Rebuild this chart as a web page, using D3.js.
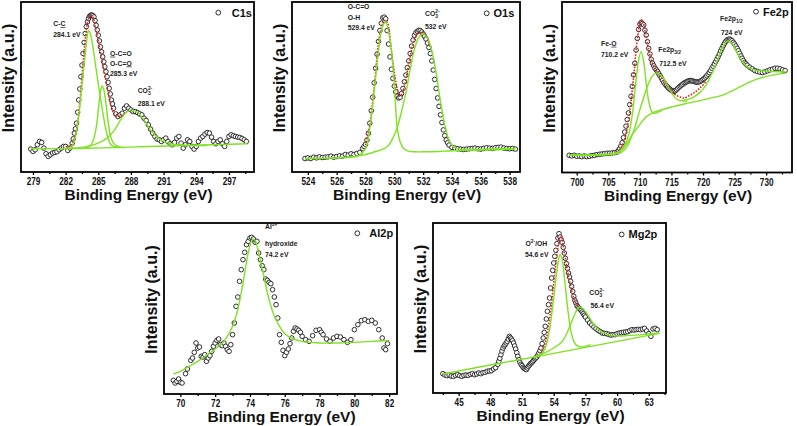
<!DOCTYPE html>
<html><head><meta charset="utf-8">
<script src="https://cdn.jsdelivr.net/npm/d3@7/dist/d3.min.js"></script>
<style>
html,body{margin:0;padding:0;background:#fff;}
svg{display:block;font-family:"Liberation Sans",Arial,Helvetica,sans-serif;}
</style></head><body>
<svg id="chart" width="797" height="426"></svg>
<script>
// ---------------- C1s ----------------
const c1sTicks = [279, 282, 285, 288, 291, 294, 297];
const c1sMinor = [280.5, 283.5, 286.5, 289.5, 292.5, 295.5, 298.5];
const c1sPoints = [
[278.8,69],[279.0,62],[279.2,67],[279.4,82],[279.6,92],[279.8,89],[280.0,72],[280.2,55],[280.4,47],[280.6,52],[280.8,57],[281.0,59],[281.2,61],[281.4,67],[281.6,72],[281.8,77],[282.0,77],[282.2,65],[282.4,72],[282.6,87],[282.7,100],[282.8,117],[282.9,130],[283.0,147],[283.1,180],[283.2,217],[283.3,250],[283.4,287],[283.5,322],[283.6,357],[283.7,390],[283.8,417],[283.9,438],[284.0,452],[284.1,462],[284.2,469],[284.3,472],[284.4,473],[284.5,471],[284.6,467],[284.7,456],[284.8,442],[284.9,428],[285.0,412],[285.1,395],[285.2,377],[285.3,362],[285.4,347],[285.5,332],[285.6,317],[285.7,302],[285.8,287],[285.9,270],[286.0,252],[286.1,235],[286.2,217],[286.3,205],[286.4,192],[286.6,175],[286.8,167],[287.0,172],[287.2,177],[287.4,192],[287.6,199],[287.8,192],[288.0,187],[288.2,182],[288.4,182],[288.6,179],[288.8,175],[289.0,172],[289.2,162],[289.4,155],[289.6,142],[289.8,129],[290.0,117],[290.2,107],[290.4,99],[290.6,97],[290.8,92],[291.0,97],[291.2,102],[291.4,92],[291.6,85],[291.8,82],[292.0,89],[292.2,102],[292.4,107],[292.6,87],[292.8,72],[293.0,82],[293.2,97],[293.4,92],[293.6,77],[293.8,69],[294.0,77],[294.2,92],[294.4,102],[294.6,107],[294.8,114],[295.0,119],[295.2,117],[295.4,105],[295.6,92],[295.8,85],[296.0,92],[296.2,97],[296.4,85],[296.6,77],[296.8,92],[297.0,107],[297.2,112],[297.4,109],[297.6,107],[297.8,105],[298.0,104],[298.2,101],[298.4,97],[298.6,92]
];
const c1sBackground = [[278.8,70],[283,71],[288,75],[293,80],[298.7,85]];
const c1sPeakCC = [[282.0,71],[282.4,74],[282.7,85],[282.9,107],[283.1,142],[283.3,197],[283.5,262],[283.7,327],[283.9,387],[284.0,412],[284.1,427],[284.3,412],[284.5,377],[284.7,332],[284.9,287],[285.1,242],[285.3,202],[285.5,162],[285.7,127],[285.9,102],[286.1,85],[286.4,77],[287.0,74]];
const c1sPeakOCO = [[283.8,72],[284.2,77],[284.5,92],[284.8,132],[285.0,187],[285.2,242],[285.35,259],[285.5,249],[285.7,207],[285.9,152],[286.1,112],[286.4,87],[286.8,77],[287.4,73]];
const c1sPeakCO3 = [[282.5,71],[284.0,77],[285.0,87],[285.8,102],[286.5,127],[287.0,155],[287.5,177],[288.1,187],[288.6,179],[289.2,157],[289.8,127],[290.4,105],[291.0,92],[292.0,83],[293.5,80],[295.0,80]];
const c1sEnvelope = [[282.0,77],[282.4,77],[282.7,92],[283.0,127],[283.3,207],[283.6,327],[283.9,427],[284.1,462],[284.3,472],[284.5,467],[284.7,442],[285.0,397],[285.3,342],[285.6,292],[285.9,242],[286.2,197],[286.5,172],[286.8,167],[287.2,172],[287.6,182]];
const c1sLabels = ["C-_C_", "284.1 eV", "_O_-C=O", "O-C=_O_", "285.3 eV", "CO{3}^{2-}", "288.1 eV"];

// ---------------- O1s ----------------
const o1sTicks = [524, 526, 528, 530, 532, 534, 536, 538];
const o1sMinor = [525, 527, 529, 531, 533, 535, 537];
const o1sPoints = [
[523.8,40],[524.0,42],[524.2,40],[524.4,44],[524.6,42],[524.8,45],[525.0,43],[525.2,44],[525.4,45],[525.6,47],[525.8,44],[526.0,46],[526.2,48],[526.4,47],[526.6,52],[526.8,50],[527.0,54],[527.2,52],[527.4,55],[527.6,58],[527.8,70],[527.9,76],[528.0,82],[528.1,95],[528.2,115],[528.3,145],[528.4,182],[528.5,222],[528.6,265],[528.7,308],[528.8,350],[528.9,388],[529.0,420],[529.1,442],[529.2,458],[529.3,460],[529.4,455],[529.5,420],[529.6,380],[529.7,342],[529.8,305],[529.9,278],[530.0,255],[530.1,238],[530.2,225],[530.3,220],[530.4,222],[530.5,233],[530.6,248],[530.7,268],[530.8,288],[530.9,310],[531.0,330],[531.1,352],[531.2,374],[531.3,392],[531.4,406],[531.5,414],[531.6,418],[531.7,421],[531.8,420],[531.9,416],[532.0,410],[532.1,403],[532.2,395],[532.3,383],[532.4,370],[532.5,352],[532.6,330],[532.7,303],[532.8,275],[532.9,248],[533.0,220],[533.1,195],[533.2,170],[533.3,147],[533.4,125],[533.5,108],[533.6,95],[533.7,87],[533.8,80],[534.0,73],[534.2,71],[534.4,69],[534.6,68],[534.8,67],[535.0,68],[535.2,69],[535.4,70],[535.6,71],[535.8,69],[536.0,68],[536.2,70],[536.4,72],[536.6,71],[536.8,70],[537.0,72],[537.2,73],[537.4,74],[537.6,71],[537.8,70],[538.0,69],[538.2,70],[538.4,68]
];
const o1sPeakOCO = [[523.8,40],[526,42],[527.5,48],[528.0,70],[528.3,130],[528.6,240],[528.9,360],[529.1,420],[529.3,442],[529.4,445],[529.6,418],[529.8,360],[530.0,260],[530.2,132],[530.4,90],[530.6,72],[530.9,63],[531.4,60],[532,60],[533,61],[534,63],[536,65],[538.4,68]];
const o1sPeakCO3 = [[523.8,40],[526,42],[527.5,48],[528.5,58],[529.5,75],[530.0,110],[530.2,132],[530.5,180],[530.8,235],[531.1,305],[531.4,365],[531.7,400],[532.0,410],[532.3,398],[532.6,360],[532.9,295],[533.2,210],[533.5,140],[533.8,95],[534.1,75],[534.6,68],[535.5,67],[537,69],[538.4,70]];
const o1sEnvelope = [[528.0,80],[528.3,140],[528.6,250],[529.0,410],[529.3,450],[529.5,445],[529.8,360],[530.0,295],[530.2,248],[530.4,225],[530.6,240],[530.8,275],[531.0,320],[531.3,380],[531.6,410],[531.9,415],[532.2,405],[532.5,370]];
const o1sLabels = ["O-C=O", "O-H", "529.4 eV", "CO{3}^{2-}", "532 eV"];

// ---------------- Fe2p ----------------
const fe2pTicks = [700, 705, 710, 715, 720, 725, 730];
const fe2pMinor = [702.5, 707.5, 712.5, 717.5, 722.5, 727.5, 732.5];
const fe2pPoints = [
[698.8,52],[699.2,50],[699.6,52],[700.0,49],[700.4,50],[700.8,48],[701.2,50],[701.6,48],[702.0,49],[702.4,51],[702.8,52],[703.2,54],[703.6,55],[704.0,56],[704.4,57],[704.8,58],[705.2,58],[705.6,59],[706.0,60],[706.4,62],[706.6,66],[706.8,72],[707.0,80],[707.2,90],[707.4,105],[707.6,122],[707.8,140],[708.0,160],[708.2,180],[708.4,205],[708.6,230],[708.8,260],[709.0,295],[709.2,330],[709.4,370],[709.6,405],[709.8,432],[710.0,448],[710.2,453],[710.4,450],[710.6,446],[710.8,430],[711.0,415],[711.2,395],[711.4,375],[711.6,358],[711.8,342],[712.0,330],[712.2,322],[712.4,315],[712.6,310],[712.8,305],[713.0,298],[713.2,292],[713.4,285],[713.6,278],[713.8,272],[714.0,267],[714.2,262],[714.4,258],[714.6,254],[714.8,251],[715.0,248],[715.2,246],[715.4,245],[715.6,247],[715.8,250],[716.0,254],[716.2,258],[716.4,261],[716.6,264],[716.8,267],[717.0,270],[717.2,272],[717.4,274],[717.6,276],[717.8,277],[718.0,278],[718.2,277],[718.4,276],[718.6,275],[718.8,274],[719.0,273],[719.2,273],[719.4,274],[719.6,276],[719.8,278],[720.0,281],[720.2,284],[720.4,288],[720.6,292],[720.8,297],[721.0,302],[721.2,308],[721.4,315],[721.6,321],[721.8,328],[722.0,335],[722.2,342],[722.4,350],[722.6,358],[722.8,367],[723.0,375],[723.2,383],[723.4,390],[723.6,396],[723.8,400],[724.0,402],[724.2,403],[724.4,401],[724.6,398],[724.8,393],[725.0,388],[725.2,382],[725.4,375],[725.6,368],[725.8,360],[726.0,352],[726.2,345],[726.4,338],[726.6,332],[726.8,328],[727.0,324],[727.4,318],[727.8,313],[728.2,308],[728.6,305],[729.0,303],[729.4,302],[729.8,304],[730.2,307],[730.6,310],[731.0,312],[731.4,315],[731.8,315],[732.2,313],[732.6,310],[733.0,308]
];
const fe2pBackground = [[698.8,52],[704,54],[706,56],[707,65],[708,90],[709,120],[710,145],[711,168],[712,180],[713,187],[715,198],[717,207],[719,215],[721,224],[723,233],[725,250],[727,270],[729,285],[731,294],[733.1,300]];
const fe2pPeakFeO = [[698.8,52],[705,55],[706.5,60],[707.5,80],[708.3,120],[708.9,190],[709.4,280],[709.8,340],[710.2,365],[710.6,335],[711.0,270],[711.4,215],[711.8,187],[712.2,178],[712.6,180],[713.5,188]];
const fe2pPeak32 = [[698.8,52],[705,54],[707,60],[707.5,68],[708,80],[708.5,100],[709,125],[709.5,155],[710,190],[710.5,220],[711,250],[711.5,275],[712,292],[712.5,300],[713.0,298],[713.6,288],[714.2,270],[714.8,248],[715.4,230],[716.0,220],[716.5,217],[717.5,215]];
const fe2pPeak12 = [[716.5,217],[717.5,220],[718.5,228],[719.5,242],[720.5,265],[721.3,295],[722,325],[722.7,360],[723.3,385],[724,397],[724.6,390],[725.2,370],[725.8,348],[726.5,328],[727.3,316],[728.2,310],[729.5,307],[731,305],[733.1,304]];
const fe2pEnvelope = [[706.5,60],[707,75],[707.5,95],[708,135],[708.5,200],[709,285],[709.4,370],[709.8,430],[710.1,458],[710.4,460],[710.7,440],[711.0,410],[711.4,370],[711.8,340],[712.2,320],[712.6,308],[713.2,292],[714,270],[714.8,250],[715.6,235],[716.4,228],[717,225],[717.6,230],[718.5,240],[719.5,255],[720.5,275]];
const fe2pLabels = ["Fe-_O_", "710.2 eV", "Fe2p{3/2}", "712.5 eV", "Fe2p{1/2}", "724 eV"];

// ---------------- Al2p ----------------
const al2pTicks = [70, 72, 74, 76, 78, 80, 82];
const al2pMinor = [71, 73, 75, 77, 79, 81];
const al2pPoints = [
[69.6,41],[69.7,33],[69.8,38],[69.9,45],[70.0,35],[70.1,33],[70.3,61],[70.4,75],[70.6,101],[70.7,108],[70.8,125],[70.9,153],[71.0,138],[71.1,141],[71.2,113],[71.3,111],[71.4,118],[71.5,98],[71.6,108],[71.7,115],[71.8,128],[71.9,143],[72.0,153],[72.1,161],[72.2,165],[72.3,148],[72.4,145],[72.5,153],[72.6,143],[72.7,133],[72.8,128],[72.9,148],[73.0,178],[73.1,213],[73.2,263],[73.3,291],[73.4,338],[73.5,373],[73.6,403],[73.7,425],[73.8,448],[73.9,458],[74.0,468],[74.1,470],[74.2,465],[74.3,455],[74.4,458],[74.5,423],[74.6,403],[74.7,385],[74.8,373],[74.9,345],[75.0,341],[75.1,335],[75.2,331],[75.3,313],[75.4,291],[75.5,268],[75.6,228],[75.7,178],[75.8,155],[75.9,131],[76.0,115],[76.1,125],[76.2,135],[76.3,151],[76.4,168],[76.5,188],[76.6,198],[76.7,195],[76.8,191],[76.9,185],[77.0,173],[77.2,163],[77.4,158],[77.6,175],[77.8,191],[78.0,193],[78.1,185],[78.2,178],[78.4,165],[78.6,158],[78.8,168],[79.0,173],[79.2,171],[79.4,163],[79.6,155],[79.8,163],[80.0,193],[80.2,208],[80.4,220],[80.6,223],[80.8,218],[81.0,221],[81.2,213],[81.4,193],[81.6,168],[81.7,138],[81.8,133],[81.9,151]
];
const al2pFit = [[69.6,60],[70,68],[70.5,83],[71,98],[71.5,116],[72,135],[72.5,158],[73,203],[73.3,253],[73.6,333],[73.9,423],[74.1,461],[74.2,465],[74.3,461],[74.5,423],[74.8,353],[75.1,283],[75.4,233],[75.7,203],[76,181],[76.5,165],[77,158],[77.5,155],[78,153],[79,153],[80,155],[81,158],[82,160]];
const al2pLabels = ["Al^{3+}", "hydroxide", "74.2 eV"];

// ---------------- Mg2p ----------------
const mg2pTicks = [45, 48, 51, 54, 57, 60, 63];
const mg2pMinor = [43.5, 46.5, 49.5, 52.5, 55.5, 58.5, 61.5, 64.5];
const mg2pPoints = [
[43.5,58],[43.7,54],[43.9,52],[44.1,54],[44.3,51],[44.5,50],[44.7,53],[44.9,55],[45.1,52],[45.3,50],[45.5,53],[45.7,54],[45.9,53],[46.1,56],[46.3,58],[46.5,55],[46.7,57],[46.9,60],[47.1,58],[47.3,61],[47.5,62],[47.7,65],[47.9,66],[48.1,67],[48.3,72],[48.5,76],[48.7,86],[48.8,95],[48.9,104],[49.0,115],[49.1,126],[49.2,135],[49.3,141],[49.4,145],[49.5,150],[49.6,155],[49.7,162],[49.8,170],[49.9,166],[50.0,162],[50.1,157],[50.2,150],[50.3,141],[50.4,132],[50.5,121],[50.6,110],[50.7,100],[50.8,92],[50.9,86],[51.0,82],[51.1,77],[51.2,74],[51.3,72],[51.4,70],[51.5,75],[51.6,80],[51.7,84],[51.8,88],[51.9,91],[52.0,94],[52.1,98],[52.2,102],[52.3,105],[52.4,108],[52.5,114],[52.6,120],[52.7,127],[52.8,135],[52.9,148],[53.0,165],[53.1,182],[53.2,200],[53.3,222],[53.4,245],[53.5,265],[53.6,285],[53.7,315],[53.8,345],[53.9,368],[54.0,390],[54.1,410],[54.2,428],[54.3,448],[54.4,465],[54.5,478],[54.6,468],[54.7,460],[54.8,452],[54.9,437],[55.0,420],[55.1,404],[55.2,388],[55.3,374],[55.4,360],[55.5,348],[55.6,335],[55.7,320],[55.8,305],[55.9,290],[56.0,278],[56.1,270],[56.2,262],[56.3,258],[56.4,254],[56.5,251],[56.6,248],[56.7,243],[56.8,238],[56.9,233],[57.0,228],[57.2,219],[57.4,210],[57.6,204],[57.8,198],[58.0,193],[58.2,188],[58.4,184],[58.6,180],[58.8,179],[59.0,178],[59.2,176],[59.4,174],[59.6,175],[59.8,175],[60.0,178],[60.2,180],[60.4,181],[60.6,182],[60.8,183],[61.0,184],[61.2,187],[61.4,190],[61.6,189],[61.8,190],[62.0,191],[62.2,190],[62.4,192],[62.6,194],[62.8,186],[63.0,178],[63.2,170],[63.4,192],[63.6,194],[63.8,190]
];
const mg2pBackground = [[43.5,57],[46,72],[49,90],[52,107],[55,125],[58,143],[61,161],[64,179]];
const mg2pPeakOH = [[52,107],[52.8,115],[53.2,135],[53.6,190],[53.9,260],[54.2,340],[54.4,390],[54.6,415],[54.8,400],[55.0,350],[55.3,260],[55.6,190],[55.9,155],[56.2,142],[56.6,138],[57.5,145]];
const mg2pPeakCO3 = [[52,107],[53,118],[54,135],[54.8,155],[55.4,190],[55.9,230],[56.2,250],[56.4,258],[56.7,255],[57.1,240],[57.6,215],[58.1,195],[58.7,180],[59.5,172],[61,172],[63,177],[64,180]];
const mg2pEnvelope = [[52.8,120],[53.2,150],[53.6,220],[53.9,300],[54.2,390],[54.5,455],[54.7,470],[54.9,440],[55.2,385],[55.5,335],[55.8,295],[56.1,270],[56.4,260]];
const mg2pLabels = ["O^{2-}/OH", "54.6 eV", "CO{3}^{2-}", "56.4 eV"];

const yTitle = "Intensity (a.u.)";
const xTitle = "Binding Energy (eV)";

// ---------------- layout ----------------
const panels = [
  {name:"C1s", points:c1sPoints, ticks:c1sTicks, minor:c1sMinor,
   green:[c1sBackground,c1sPeakCC,c1sPeakOCO,c1sPeakCO3], red:c1sEnvelope,
   xDomain:[277.9,299.3], yDomain:[0,512], box:[21,254,2,172],
   legend:[218.3,12.7,231.7,16.5],
   labels:c1sLabels, labelPos:[[53.3,26],[53.3,36.5],[110,55.7],[110,65.5],[110,76],[137.7,93],[137.7,106]]},
  {name:"O1s", points:o1sPoints, ticks:o1sTicks, minor:o1sMinor,
   green:[o1sPeakOCO,o1sPeakCO3], red:o1sEnvelope,
   xDomain:[522.9,538.72], yDomain:[0,505], box:[292,520,2,172],
   legend:[486.7,13.3,493.5,16.5],
   labels:o1sLabels, labelPos:[[347.7,8.5],[347.7,19.5],[347.7,30],[425,16],[425,29.3]]},
  {name:"Fe2p", points:fe2pPoints, ticks:fe2pTicks, minor:fe2pMinor,
   green:[fe2pBackground,fe2pPeakFeO,fe2pPeak32,fe2pPeak12], red:fe2pEnvelope,
   xDomain:[697.67,734.09], yDomain:[0,515], box:[562,792,2,172.5],
   legend:[756,11.7,763,15.7],
   labels:fe2pLabels, labelPos:[[601,45.7],[601,56.7],[658.3,51.7],[659.3,65.7],[720,20.7],[721,35.3]]},
  {name:"Al2p", points:al2pPoints, ticks:al2pTicks, minor:al2pMinor,
   green:[al2pFit], red:null,
   xDomain:[69.06,82.45], yDomain:[0,513], box:[164,397,223,394],
   legend:[357.3,233.3,369.3,237],
   labels:al2pLabels, labelPos:[[265,229.3],[265,246],[265,256.7]]},
  {name:"Mg2p", points:mg2pPoints, ticks:mg2pTicks, minor:mg2pMinor,
   green:[mg2pBackground,mg2pPeakOH,mg2pPeakCO3], red:mg2pEnvelope,
   xDomain:[42.57,64.63], yDomain:[0,510], box:[433,666,223,393],
   legend:[621.7,234.5,628.5,238],
   labels:mg2pLabels, labelPos:[[525.5,246],[525,256.7],[589.3,295],[590.5,307.5]]}
];

const GREEN = "#7ee322", RED = "#e3241c";
const svg = d3.select("#chart");

function richText(parent, str, x, y, fs) {
  const t = parent.append("text").attr("x", x).attr("y", y)
    .attr("font-size", fs).attr("font-weight", "bold").attr("fill", "#1c1c1c");
  const re = /(\^\{[^}]*\}|\{[^}]*\}|_[^_]*_|[^_{^]+)/g;
  let m, cur = 0, lastSubW = 0, prevSub = false;
  while ((m = re.exec(str))) {
    const tok = m[0];
    if (tok.startsWith("^{")) {
      const s = tok.slice(2, -1), target = -fs * 0.45;
      const sp = t.append("tspan").attr("font-size", fs * 0.72).attr("dy", target - cur).text(s);
      if (prevSub) sp.attr("dx", -lastSubW);
      cur = target; prevSub = false;
    } else if (tok.startsWith("{")) {
      const s = tok.slice(1, -1), target = fs * 0.32;
      t.append("tspan").attr("font-size", fs * 0.72).attr("dy", target - cur).text(s);
      lastSubW = s.length * 0.556 * fs * 0.72; cur = target; prevSub = true;
    } else if (tok.startsWith("_")) {
      t.append("tspan").attr("dy", -cur).attr("text-decoration", "underline").text(tok.slice(1, -1));
      cur = 0; prevSub = false;
    } else {
      t.append("tspan").attr("dy", -cur).text(tok);
      cur = 0; prevSub = false;
    }
  }
  return t;
}

panels.forEach((p, i) => {
  const [x0, x1, y0, y1] = p.box;
  const g = svg.append("g");
  const x = d3.scaleLinear().domain(p.xDomain).range([x0, x1]);
  const y = d3.scaleLinear().domain(p.yDomain).range([y1, y0]);
  const clipId = "clip" + i;
  svg.append("clipPath").attr("id", clipId).append("rect")
    .attr("x", x0).attr("y", y0).attr("width", x1 - x0).attr("height", y1 - y0);
  const plot = g.append("g").attr("clip-path", `url(#${clipId})`);

  // data points
  plot.append("g").selectAll("circle").data(p.points).join("circle")
    .attr("cx", d => x(d[0])).attr("cy", d => y(d[1])).attr("r", 2.3)
    .attr("fill", "#fff").attr("stroke", "#1a1a1a").attr("stroke-width", 0.9);

  const line = d3.line().x(d => x(d[0])).y(d => y(d[1])).curve(d3.curveCatmullRom.alpha(0.5));
  if (p.red) {
    plot.append("path").datum(p.red).attr("d", line).attr("fill", "none")
      .attr("stroke", RED).attr("stroke-width", 1.6).attr("stroke-dasharray", "1.6,1.4");
  }
  p.green.forEach(c => {
    plot.append("path").datum(c).attr("d", line).attr("fill", "none")
      .attr("stroke", GREEN).attr("stroke-width", 1.4);
  });

  // axes
  const ax = g.append("g").attr("transform", `translate(0,${y1})`)
    .call(d3.axisBottom(x).tickValues(p.ticks).tickSize(3).tickSizeOuter(0).tickPadding(3).tickFormat(d3.format("d")));
  ax.select(".domain").remove();
  ax.selectAll(".tick line").attr("stroke", "#000").attr("stroke-width", 1.3);
  ax.selectAll(".tick text").attr("font-size", 10).attr("font-weight", "bold")
    .attr("font-family", '"Liberation Sans",Arial,sans-serif').attr("fill", "#111")
    .attr("transform", "scale(0.82,1)");
  const axm = g.append("g").attr("transform", `translate(0,${y1})`)
    .call(d3.axisBottom(x).tickValues(p.minor).tickSize(2).tickSizeOuter(0).tickFormat(""));
  axm.select(".domain").remove();
  axm.selectAll(".tick line").attr("stroke", "#000").attr("stroke-width", 1.3);

  // frame
  g.append("rect").attr("x", x0).attr("y", y0).attr("width", x1 - x0).attr("height", y1 - y0)
    .attr("fill", "none").attr("stroke", "#000").attr("stroke-width", 1.8);

  // titles
  g.append("text").attr("x", (x0 + x1) / 2 + 1).attr("y", y1 + 28)
    .attr("text-anchor", "middle").attr("font-size", 15.5).attr("font-weight", "bold")
    .attr("fill", "#111").text(xTitle);
  g.append("text").attr("transform", `translate(${x0 - 13},${(y0 + y1) / 2 - 9}) rotate(-90)`)
    .attr("text-anchor", "middle").attr("dy", "0.35em").attr("font-size", 16).attr("font-weight", "bold")
    .attr("fill", "#111").text(yTitle);

  // legend
  const [lcx, lcy, ltx, lty] = p.legend;
  g.append("circle").attr("cx", lcx).attr("cy", lcy).attr("r", 2.4)
    .attr("fill", "#fff").attr("stroke", "#1a1a1a").attr("stroke-width", 0.9);
  g.append("text").attr("x", ltx).attr("y", lty).attr("font-size", 11).attr("font-weight", "bold")
    .attr("fill", "#111").text(p.name);

  // annotations
  p.labels.forEach((s, k) => richText(g, s, p.labelPos[k][0], p.labelPos[k][1], 6.8));
});
</script></body></html>
